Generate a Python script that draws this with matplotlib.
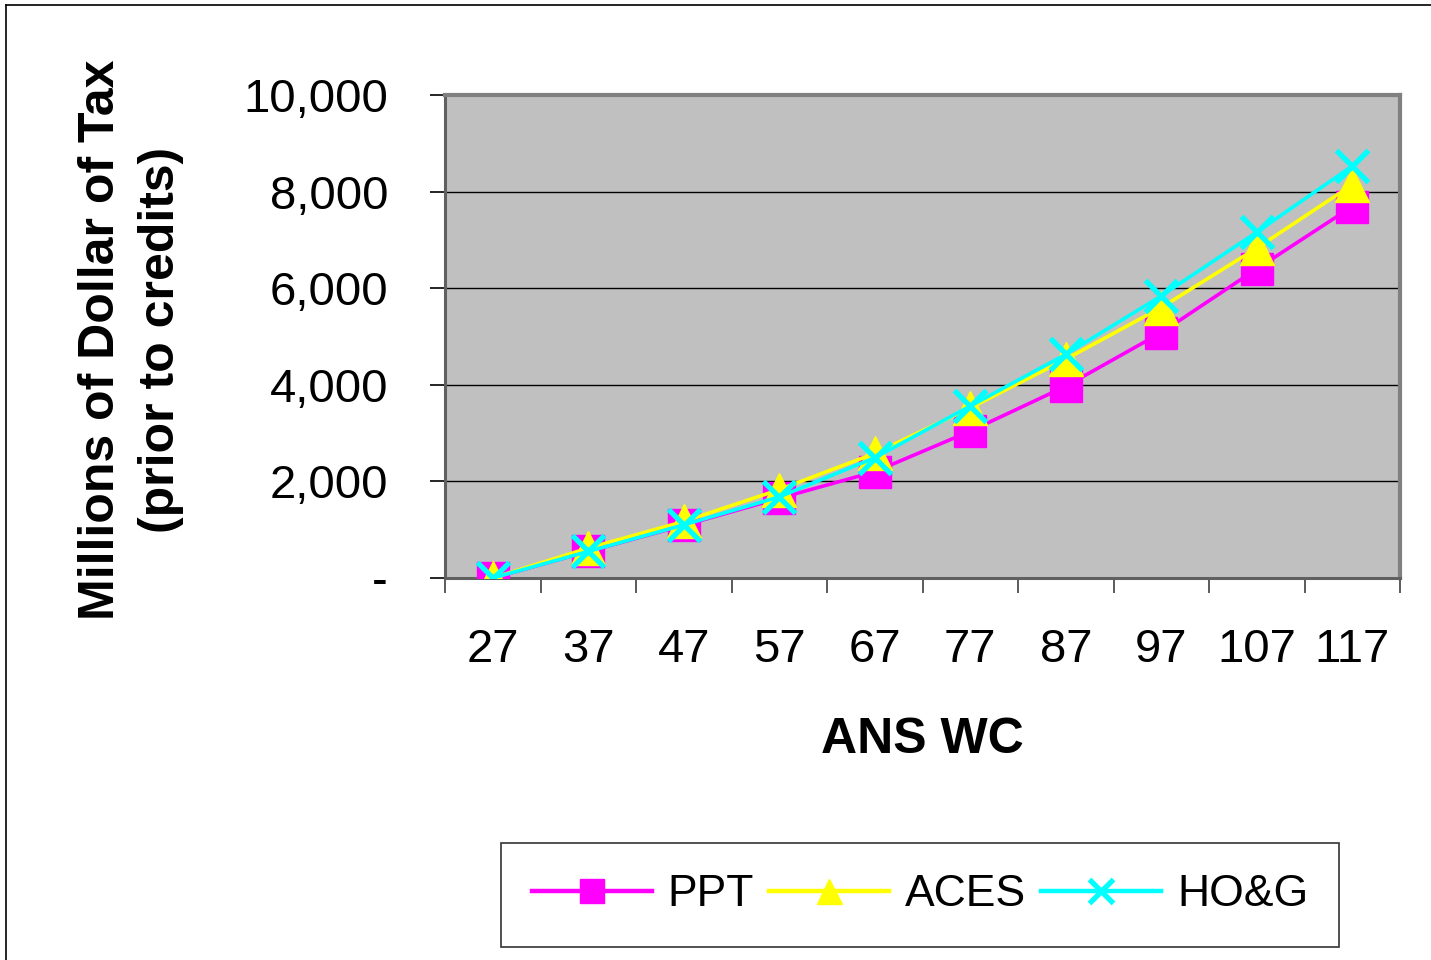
import matplotlib.pyplot as plt
from matplotlib.lines import Line2D
from matplotlib.ticker import FuncFormatter, FixedLocator

plt.rcParams['font.family'] = ['Liberation Sans', 'DejaVu Sans']

# data
ans_wc = ['27', '37', '47', '57', '67', '77', '87', '97', '107', '117']
ppt = [0, 550, 1090, 1650, 2200, 3040, 3970, 5080, 6400, 7690]
aces = [0, 620, 1170, 1830, 2580, 3520, 4530, 5600, 6830, 8140]
hog = [0, 550, 1100, 1680, 2490, 3560, 4630, 5840, 7160, 8530]

fig = plt.figure(figsize=(14.31, 9.6), dpi=100)
ax = fig.add_axes([445/1431, 1 - 578/960, 955/1431, 483/960])
ax.set_facecolor('#C0C0C0')

x = list(range(len(ans_wc)))
ax.plot(x, ppt, color='#FF00FF', lw=2.6, marker='s', markersize=23,
        markerfacecolor='#FF00FF', markeredgecolor='#FF00FF', label='PPT', zorder=3)
ax.plot(x, aces, color='#FFFF00', lw=2.6, marker='^', markersize=24,
        markerfacecolor='#FFFF00', markeredgecolor='#FFFF00', label='ACES', zorder=4)
ax.plot(x, hog, color='#00FFFF', lw=2.6, marker='x', markersize=23,
        markeredgewidth=3.8, label='HO&G', zorder=5)

ax.set_xlim(-0.5, 9.5)
ax.set_ylim(0, 10000)

# y axis
ax.set_yticks([0, 2000, 4000, 6000, 8000, 10000])
ax.yaxis.set_major_formatter(FuncFormatter(lambda v, p: '-' if v == 0 else '{:,.0f}'.format(v)))
ax.tick_params(axis='y', direction='out', length=11, width=1.2, pad=30, labelsize=34)
ax.grid(axis='y', color='black', lw=1)
ax.set_axisbelow(True)

# x axis: ticks at band edges, labels at band centres
ax.xaxis.set_major_locator(FixedLocator([i - 0.5 for i in range(11)]))
ax.xaxis.set_minor_locator(FixedLocator(x))
ax.set_xticklabels([''] * 11)
ax.set_xticklabels(ans_wc, minor=True)
ax.tick_params(axis='x', which='major', direction='out', length=11, width=1.2, color='#404040')
ax.tick_params(axis='x', which='minor', length=0, pad=36, labelsize=34)

for s in ['top', 'right']:
    ax.spines[s].set_color('#808080')
    ax.spines[s].set_linewidth(3)
for s in ['left', 'bottom']:
    ax.spines[s].set_color('#606060')
    ax.spines[s].set_linewidth(2.2)

# axis titles
fig.text(131/1431, 1 - 340/960, 'Millions of Dollar of Tax\n(prior to credits)',
         rotation=90, ha='center', va='center', multialignment='center',
         fontsize=36, fontweight='bold', linespacing=1.38)
fig.text(922/1431, 1 - 740/960, 'ANS WC', ha='center', va='center',
         fontsize=36, fontweight='bold')

# legend
leg = fig.legend(loc='center', bbox_to_anchor=(920/1431, 1 - 895/960), ncol=3,
                 fontsize=32, frameon=True, fancybox=False, edgecolor='black',
                 markerscale=0.75, handlelength=2.7, handletextpad=0.35,
                 columnspacing=0.35, borderpad=0.7, borderaxespad=0)
leg.get_frame().set_linewidth(1.2)
for h in leg.legend_handles:
    h.set_linewidth(3.2)

# outer chart border (left and top visible)
fig.add_artist(Line2D([6/1431, 6/1431], [0, 1 - 5/960], transform=fig.transFigure,
                      color='black', lw=1.2))
fig.add_artist(Line2D([6/1431, 1], [1 - 5/960, 1 - 5/960], transform=fig.transFigure,
                      color='black', lw=1.2))

fig.savefig('out.png', dpi=100)
